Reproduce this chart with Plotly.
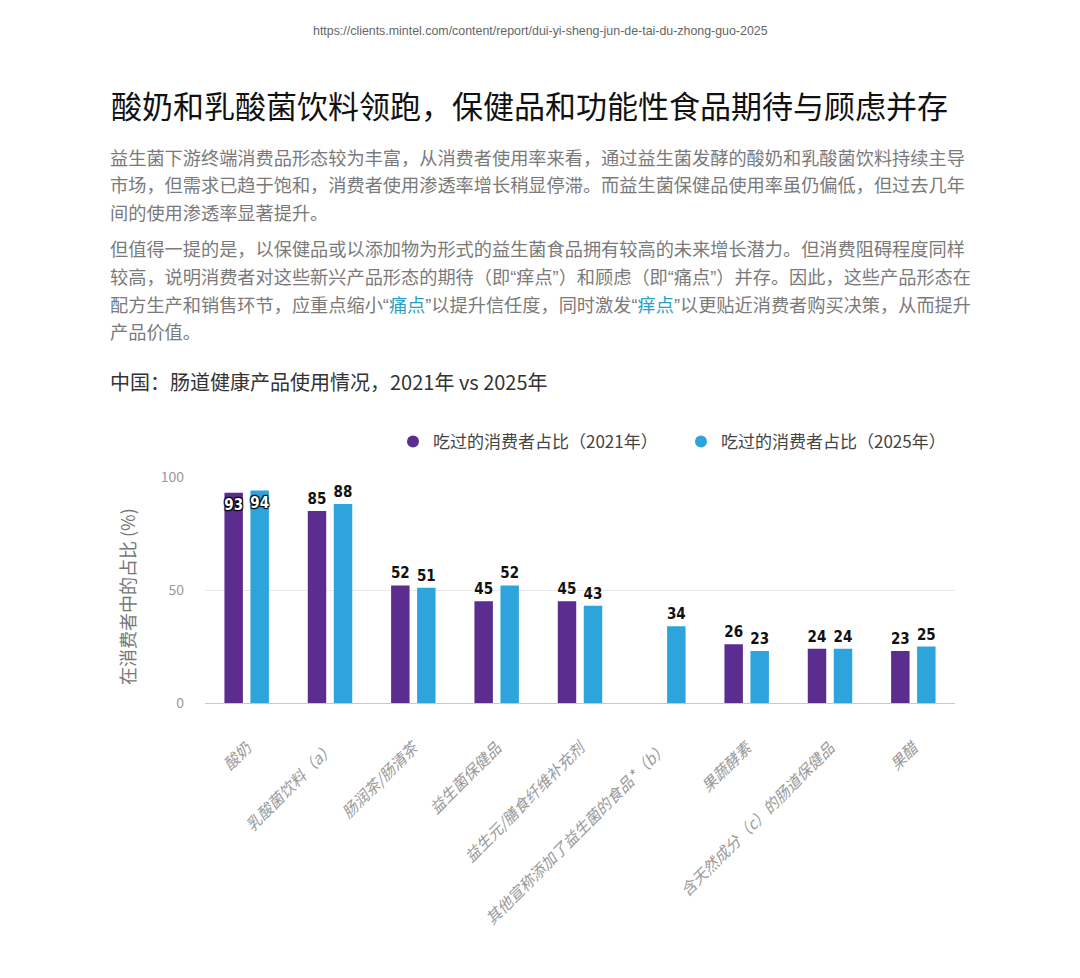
import plotly.graph_objects as go

PAGE_OFF = 8
W, H = 1080 - 2 * PAGE_OFF, 978 - 2 * PAGE_OFF

categories = ["酸奶", "乳酸菌饮料（a）", "肠润茶/肠清茶", "益生菌保健品", "益生元/膳食纤维补充剂",
              "其他宣称添加了益生菌的食品*（b）", "果蔬酵素", "含天然成分（c）的肠道保健品", "果醋"]
share_2021 = [93, 85, 52, 45, 45, None, 26, 24, 23]
share_2025 = [94, 88, 51, 52, 43, 34, 23, 24, 25]
series_names = ["吃过的消费者占比（2021年）", "吃过的消费者占比（2025年）"]
y_ticks = [0, 50, 100]

url_text = "https://clients.mintel.com/content/report/dui-yi-sheng-jun-de-tai-du-zhong-guo-2025"
title_text = "酸奶和乳酸菌饮料领跑，保健品和功能性食品期待与顾虑并存"
hl = '<span style="color:#2A9FC6">{}</span>'
lq = '<span style="font-family:Liberation Sans">“</span>'
rq = '<span style="font-family:Liberation Sans">”</span>'
para_lines = [
    "益生菌下游终端消费品形态较为丰富，从消费者使用率来看，通过益生菌发酵的酸奶和乳酸菌饮料持续主导",
    "市场，但需求已趋于饱和，消费者使用渗透率增长稍显停滞。而益生菌保健品使用率虽仍偏低，但过去几年",
    "间的使用渗透率显著提升。",
    "但值得一提的是，以保健品或以添加物为形式的益生菌食品拥有较高的未来增长潜力。但消费阻碍程度同样",
    "较高，说明消费者对这些新兴产品形态的期待（即" + lq + "痒点" + rq + "）和顾虑（即" + lq + "痛点" + rq + "）并存。因此，这些产品形态在",
    "配方生产和销售环节，应重点缩小" + lq + hl.format("痛点") + rq + "以提升信任度，同时激发" + lq + hl.format("痒点") + rq + "以更贴近消费者购买决策，从而提升",
    "产品价值。",
]
para_y = [157, 184, 212, 248, 276, 304, 331]
subtitle_text = "中国：肠道健康产品使用情况，2021年 vs 2025年"
ytitle_text = "在消费者中的占比 (%)"

PURPLE = "#5B2D8E"
BLUE = "#2EA4DC"
CJK = "Noto Sans CJK SC"
NUM = "DejaVu Sans Condensed"

def px(x):
    return (x - PAGE_OFF) / W

def py(y):
    return 1 - (y - PAGE_OFF) / H

fig = go.Figure()

pos_2021 = ["inside" if v is not None and v > 90 else "outside" for v in share_2021]
pos_2025 = ["inside" if v is not None and v > 90 else "outside" for v in share_2025]

for vals, color, pos in [(share_2021, PURPLE, pos_2021), (share_2025, BLUE, pos_2025)]:
    fig.add_trace(go.Bar(
        x=categories, y=vals, marker=dict(color=color, line=dict(width=0)),
        texttemplate="%{y}", textposition=pos, insidetextanchor="end", textangle=0,
        constraintext="none", cliponaxis=False,
        insidetextfont=dict(family=NUM, size=15, color="white", weight="bold",
                            shadow="1px 1px 1px #000, -1px -1px 1px #000, 1px -1px 1px #000, -1px 1px 1px #000"),
        outsidetextfont=dict(family=NUM, size=15, color="#111", weight="bold"),
        showlegend=False, hoverinfo="skip",
    ))

for name, color in zip(series_names, [PURPLE, BLUE]):
    fig.add_trace(go.Scatter(x=[None], y=[None], mode="markers", name=name,
                             marker=dict(color=color, size=15, symbol="circle")))

annotations = [
    dict(text=url_text, x=px(540), y=py(31), xanchor="center", yanchor="middle",
         font=dict(family="Liberation Sans", size=12.4, color="#666")),
    dict(text=title_text, x=px(109), y=py(104), xanchor="left", yanchor="middle",
         font=dict(family=CJK, size=31, color="#111")),
    dict(text=subtitle_text, x=px(108), y=py(381), xanchor="left", yanchor="middle",
         font=dict(family=CJK, size=20, color="#333")),
    dict(text=ytitle_text, x=px(127), y=py(597), xanchor="center", yanchor="middle", textangle=-90,
         font=dict(family=CJK, size=18, color="#777")),
]
for line, yy in zip(para_lines, para_y):
    annotations.append(dict(text=line, x=px(108), y=py(yy), xanchor="left", yanchor="middle",
                            font=dict(family=CJK, size=18.2, color="#7A7A7A")))
for a in annotations:
    a.update(xref="paper", yref="paper", showarrow=False)

fig.update_layout(
    width=W, height=H,
    margin=dict(l=0, r=0, t=0, b=0),
    paper_bgcolor="white", plot_bgcolor="white",
    barmode="group", bargap=0.376, bargroupgap=0.29,
    font=dict(family=CJK),
    annotations=annotations,
    legend=dict(orientation="h", x=px(393), y=py(442), xanchor="left", yanchor="middle",
                font=dict(family=CJK, size=17, color="#444"), itemsizing="constant",
                entrywidth=243, entrywidthmode="pixels", bgcolor="rgba(0,0,0,0)"),
    xaxis=dict(domain=[px(205), px(955)], automargin=False, tickangle=-45,
               tickfont=dict(family=CJK, size=15.5, color="#999", style="italic"),
               ticklabelstandoff=32, showgrid=False, showline=False, zeroline=False),
    yaxis=dict(domain=[py(703), py(477)], range=[0, 100], automargin=False,
               tickvals=y_ticks, tickfont=dict(family=CJK, size=14, color="#999"),
               ticklabelstandoff=20, showgrid=True, gridcolor="#E8E8E8", gridwidth=1,
               zeroline=True, zerolinecolor="#C8C8C8", zerolinewidth=1, showline=False),
)

fig.write_html("out.html")
